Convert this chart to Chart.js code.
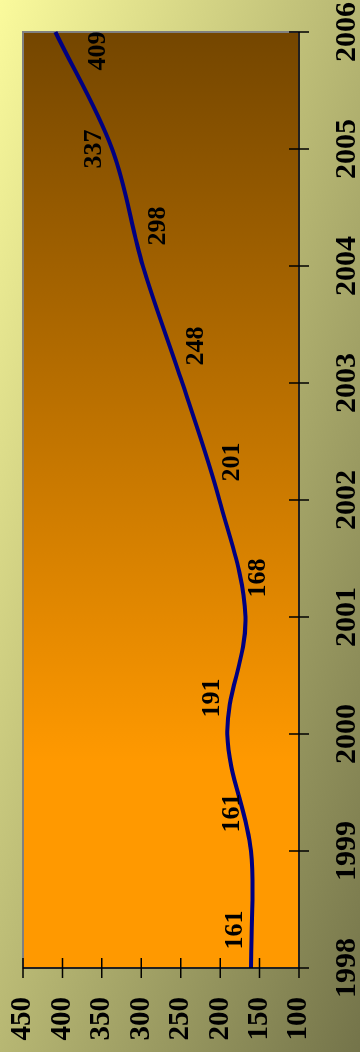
<!DOCTYPE html>
<html>
<head>
<meta charset="utf-8">
<script src="https://cdn.jsdelivr.net/npm/chart.js@4.4.0/dist/chart.umd.min.js"></script>
<style>
  html, body { margin: 0; padding: 0; background: #b8b87c; }
  #wrap { position: relative; width: 360px; height: 1052px; overflow: hidden; }
  /* the chart is drawn landscape and turned a quarter left */
  #chart { position: absolute; left: 0; top: 0; transform-origin: 0 0; transform: translateY(1052px) rotate(-90deg); }
</style>
</head>
<body>
<div id="wrap"><canvas id="chart" width="1052" height="360"></canvas></div>
<script>
const years = ['1998', '1999', '2000', '2001', '2002', '2003', '2004', '2005', '2006'];
const values = [161, 161, 191, 168, 201, 248, 298, 337, 409];
const valueTicks = [100, 150, 200, 250, 300, 350, 400, 450];

// where each value label sits relative to its point (px)
const labelShift = [[38, -16], [38, -19], [36, -15], [39, 13], [38, 13], [37, 14], [40, 15], [0, -18], [-19, 43]];

const ctx = document.getElementById('chart');

const decor = {
    id: 'decor',
    beforeDraw(chart) {
        const c = chart.ctx;
        const a = chart.chartArea;
        const w = chart.width, h = chart.height;

        c.save();
        c.scale(w, h);
        const bg = c.createLinearGradient(1, 0, 0, 1);
        bg.addColorStop(0, '#fafa9c');
        bg.addColorStop(1, '#74744a');
        c.fillStyle = bg;
        c.fillRect(0, 0, 1, 1);
        c.restore();

        c.save();
        const pg = c.createLinearGradient(a.left, 0, a.right, 0);
        pg.addColorStop(0, '#ff9900');
        pg.addColorStop(0.22, '#ff9900');
        pg.addColorStop(1, '#744600');
        c.fillStyle = pg;
        c.fillRect(a.left, a.top, a.right - a.left, a.bottom - a.top);
        c.strokeStyle = '#808080';
        c.lineWidth = 2;
        c.strokeRect(a.left, a.top, a.right - a.left, a.bottom - a.top);
        c.restore();
    },
    afterDraw(chart) {
        const c = chart.ctx;
        const a = chart.chartArea;
        const x = chart.scales.x;
        const y = chart.scales.y;

        c.save();
        c.strokeStyle = '#000';
        c.lineWidth = 1.5;
        c.beginPath();
        c.moveTo(a.left - 10, a.bottom);
        c.lineTo(a.right, a.bottom);
        c.moveTo(a.left, a.top);
        c.lineTo(a.left, a.bottom + 10);
        years.forEach((yr, i) => {
            const px = x.getPixelForValue(i);
            c.moveTo(px, a.bottom - 10);
            c.lineTo(px, a.bottom + 10);
        });
        valueTicks.forEach(v => {
            const py = y.getPixelForValue(v);
            c.moveTo(a.left - 10, py);
            c.lineTo(a.left + 10, py);
        });
        c.stroke();

        c.fillStyle = '#000';
        c.font = 'bold 26px "Liberation Serif", "Times New Roman", serif';
        c.textAlign = 'center';
        c.textBaseline = 'middle';
        const meta = chart.getDatasetMeta(0);
        meta.data.forEach((pt, i) => {
            c.fillText(String(values[i]), pt.x + labelShift[i][0], pt.y + labelShift[i][1]);
        });
        c.restore();
    }
};

const tickFont = { family: '"Liberation Serif", "Times New Roman", serif', weight: 'bold', size: 30 };

new Chart(ctx, {
    type: 'line',
    data: {
        labels: years,
        datasets: [{
            data: values,
            borderColor: '#000080',
            borderWidth: 4,
            pointRadius: 0,
            tension: 0.35,
            fill: false
        }]
    },
    options: {
        responsive: false,
        animation: false,
        devicePixelRatio: 1,
        layout: { padding: { top: 23, right: 32, left: 0, bottom: 0 } },
        plugins: {
            legend: { display: false },
            tooltip: { enabled: false }
        },
        scales: {
            x: {
                offset: false,
                grid: { display: false, drawTicks: false },
                border: { display: false },
                ticks: { color: '#000', font: tickFont, padding: 30, maxRotation: 0, autoSkip: false },
                afterFit(s) { s.height = 61; s.paddingLeft = 0; s.paddingRight = 0; }
            },
            y: {
                min: 100,
                max: 450,
                grid: { display: false, drawTicks: false },
                border: { display: false },
                ticks: { color: '#000', font: { ...tickFont, size: 29 }, padding: 29, stepSize: 50, autoSkip: false },
                afterFit(s) { s.width = 84; s.paddingTop = 0; s.paddingBottom = 0; }
            }
        }
    },
    plugins: [decor]
});
</script>
</body>
</html>
